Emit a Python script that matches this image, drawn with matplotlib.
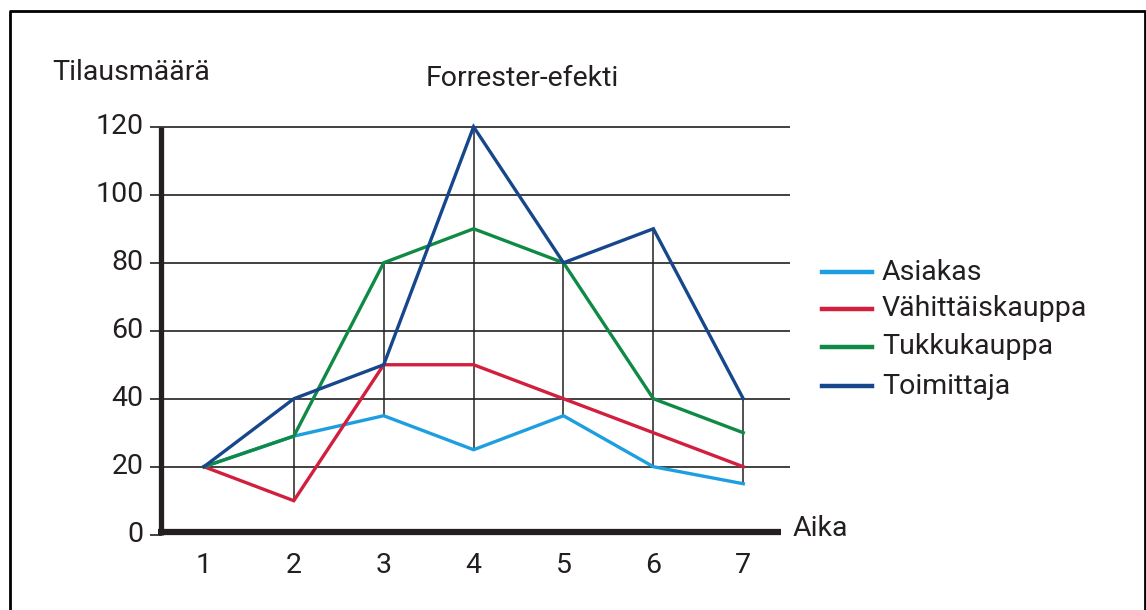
import matplotlib.pyplot as plt
from matplotlib.lines import Line2D

# data
aika = [1, 2, 3, 4, 5, 6, 7]
asiakas = [20, 29, 35, 25, 35, 20, 15]
vahittais = [20, 10, 50, 50, 40, 30, 20]
tukku = [20, 29, 80, 90, 80, 40, 30]
toimittaja = [20, 40, 50, 120, 80, 90, 40]
y_ticks = [0, 20, 40, 60, 80, 100, 120]

series = [
    ("Asiakas", asiakas, "#1d9ee0"),
    ("Vähittäiskauppa", vahittais, "#d21f3e"),
    ("Tukkukauppa", tukku, "#0f8a45"),
    ("Toimittaja", toimittaja, "#16478c"),
]

plt.rcParams['font.family'] = ['Roboto', 'DejaVu Sans']
txt = "#231f20"
fs = 20.5

W, H = 1146, 610
fig = plt.figure(figsize=(W / 100, H / 100), dpi=100)

# axes placed in pixels: x 0.4..7.52 -> 150..790, y -2..122 -> 541.5..120
ax = fig.add_axes([150 / W, 1 - 541.5 / H, 640 / W, (541.5 - 120) / H])
ax.set_xlim(0.4, 7.52)
ax.set_ylim(-2, 122)
ax.axis("off")

# horizontal grid lines (also act as the short y ticks left of the axis)
for t in y_ticks[1:]:
    ax.axhline(t, color="#333333", lw=1.3, zorder=1)
ax.plot([0.4, 0.52], [0, 0], color="#333333", lw=1.3, zorder=1)

# high-low lines at each time step
for i, x in enumerate(aika[1:], start=1):
    vals = [s[1][i] for s in series]
    ax.plot([x, x], [min(vals), max(vals)], color="#222222", lw=1.1, zorder=2)

for name, vals, col in series:
    ax.plot(aika, vals, color=col, lw=2.4, zorder=3, solid_joinstyle="miter")

# thick axis lines
ax.plot([0.52, 0.52], [0, 120], color="#231f20", lw=3.8, zorder=4, solid_capstyle="butt")
ax.plot([0.49, 7.42], [0.8, 0.8], color="#231f20", lw=4.5, zorder=4, solid_capstyle="butt")

# tick labels
for t in y_ticks:
    ax.text(0.33, t, str(t), ha="right", va="center", fontsize=fs, color=txt)
for x in aika:
    ax.text(x, -9, str(x), ha="center", va="center", fontsize=fs, color=txt)

fig.text(52 / W, 1 - 72 / H, "Tilausmäärä", ha="left", va="center", fontsize=fs, color=txt)
fig.text(522 / W, 1 - 78 / H, "Forrester-efekti", ha="center", va="center", fontsize=fs, color=txt)
fig.text(793 / W, 1 - 529 / H, "Aika", ha="left", va="center", fontsize=fs, color=txt)

# legend drawn by hand
leg_y = [272, 309, 347, 386]
for (name, vals, col), py in zip(series, leg_y):
    fig.add_artist(Line2D([822 / W, 872 / W], [1 - py / H] * 2, color=col, lw=3.2))
    fig.text(882 / W, 1 - py / H, name, ha="left", va="center", fontsize=fs, color=txt)

# frame around the picture (no bottom edge)
fig.add_artist(Line2D([9.5 / W, 9.5 / W, 1144.5 / W, 1144.5 / W],
                      [0, 1 - 11 / H, 1 - 11 / H, 0], color="black", lw=2))

fig.savefig("out.png", dpi=100)
